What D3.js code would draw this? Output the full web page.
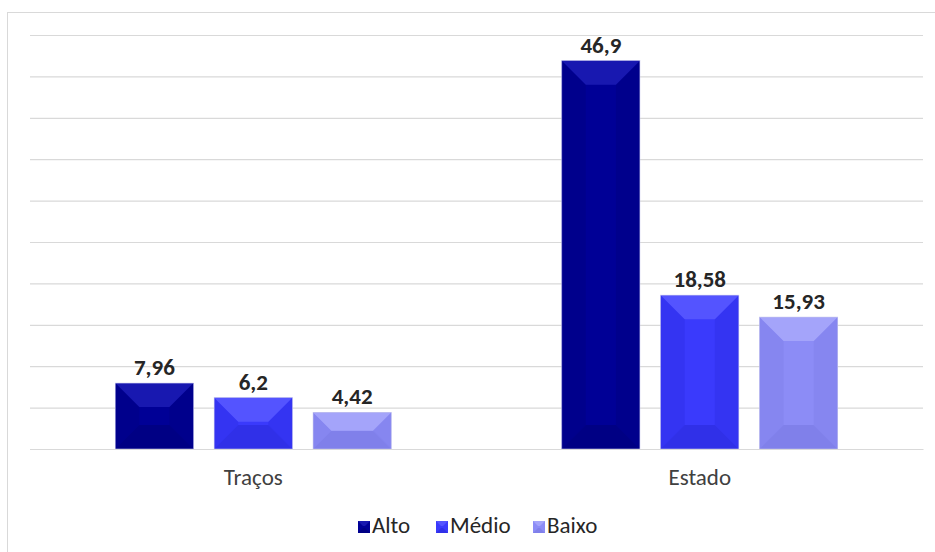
<!DOCTYPE html>
<html>
<head>
<meta charset="utf-8">
<script src="https://cdn.jsdelivr.net/npm/d3@7"></script>
<style>
  body { margin: 0; background: #fff; }
  svg { font-family: Carlito, Calibri, "Open Sans", sans-serif; }
</style>
</head>
<body>
<div class="canvas"></div>
<script>
// data
const categories = ["Traços", "Estado"];
const series = ["Alto", "Médio", "Baixo"];
const alto = [7.96, 46.9];
const medio = [6.2, 18.58];
const baixo = [4.42, 15.93];
const yTicks = [0, 5, 10, 15, 20, 25, 30, 35, 40, 45, 50];

const values = { "Alto": alto, "Médio": medio, "Baixo": baixo };

const colors = {
  "Alto":  { main: "#000096", top: "#1818b0", bottom: "#000084", side: "#00008c" },
  "Médio": { main: "#3a3afc", top: "#5454ff", bottom: "#3030e8", side: "#3434f2" },
  "Baixo": { main: "#8c8cf6", top: "#a4a4fa", bottom: "#8080ea", side: "#8686f0" }
};

const width = 935, height = 552;
const margin = { top: 35, right: 12, bottom: 103, left: 30 };
const graphWidth = width - margin.left - margin.right;
const graphHeight = height - margin.top - margin.bottom;

const svg = d3.select(".canvas")
  .append("svg")
  .attr("width", width)
  .attr("height", height);

// chart border
svg.append("rect")
  .attr("x", 7.5).attr("y", 12.5)
  .attr("width", 940).attr("height", 560)
  .attr("fill", "none")
  .attr("stroke", "#d9d9d9");

const graph = svg.append("g")
  .attr("transform", `translate(${margin.left}, ${margin.top})`);

// scales
const x0 = d3.scaleBand()
  .domain(categories)
  .range([0, graphWidth])
  .paddingInner(0.382)
  .paddingOuter(0.191);

const x1 = d3.scaleBand()
  .domain(series)
  .range([0, x0.bandwidth()])
  .paddingInner(0.21);

const y = d3.scaleLinear().domain([0, 50]).range([graphHeight, 0]);

// gridlines
const yAxis = d3.axisLeft(y).tickValues(yTicks).tickSize(-graphWidth).tickFormat("");
const yAxisGroup = graph.append("g").call(yAxis);
yAxisGroup.select(".domain").remove();
yAxisGroup.selectAll("line").attr("stroke", "#d9d9d9").attr("stroke-width", 1.2);

// bevel faces for a bar
const bevel = (x, yTop, w, h, depth) => {
  const d = Math.min(depth, h / 2, w / 2);
  const x2 = x + w, y2 = yTop + h;
  return {
    top: [[x, yTop], [x2, yTop], [x2 - d, yTop + d], [x + d, yTop + d]],
    bottom: [[x, y2], [x2, y2], [x2 - d, y2 - d], [x + d, y2 - d]],
    left: [[x, yTop], [x + d, yTop + d], [x + d, y2 - d], [x, y2]],
    right: [[x2, yTop], [x2 - d, yTop + d], [x2 - d, y2 - d], [x2, y2]]
  };
};

const rows = [];
categories.forEach((c, i) => {
  series.forEach(s => rows.push({ cat: c, ser: s, value: values[s][i] }));
});

const bars = graph.selectAll("g.bar")
  .data(rows)
  .enter()
  .append("g")
  .attr("class", "bar");

bars.each(function(d) {
  const g = d3.select(this);
  const bx = x0(d.cat) + x1(d.ser);
  const by = y(d.value);
  const bw = x1.bandwidth();
  const bh = graphHeight - by;
  const c = colors[d.ser];
  const p = bevel(bx, by, bw, bh, 24);
  g.append("rect").attr("x", bx).attr("y", by).attr("width", bw).attr("height", bh).attr("fill", c.main);
  g.append("polygon").attr("points", p.left.join(" ")).attr("fill", c.side);
  g.append("polygon").attr("points", p.right.join(" ")).attr("fill", c.side);
  g.append("polygon").attr("points", p.bottom.join(" ")).attr("fill", c.bottom);
  g.append("polygon").attr("points", p.top.join(" ")).attr("fill", c.top);
  g.append("rect").attr("x", bx).attr("y", by).attr("width", bw).attr("height", bh)
    .attr("fill", "none").attr("stroke", "#c0c0ec").attr("stroke-width", 0.6);
});

// value labels
graph.selectAll("text.value")
  .data(rows)
  .enter()
  .append("text")
  .attr("class", "value")
  .attr("x", d => x0(d.cat) + x1(d.ser) + x1.bandwidth() / 2)
  .attr("y", d => y(d.value) - 8)
  .attr("text-anchor", "middle")
  .attr("font-size", 23)
  .attr("font-weight", "bold")
  .attr("fill", "#262626")
  .text(d => String(d.value).replace(".", ","));

// category axis labels
const xAxis = d3.axisBottom(x0).tickSize(0).tickPadding(20);
const xAxisGroup = graph.append("g")
  .attr("transform", `translate(0, ${graphHeight})`)
  .call(xAxis);
xAxisGroup.select(".domain").attr("stroke", "#d9d9d9").attr("stroke-width", 1.2);
xAxisGroup.selectAll("text")
  .attr("font-size", 23)
  .attr("fill", "#404040")
  .attr("font-family", "Carlito, Calibri, 'Open Sans', sans-serif");

// legend
const legendItems = [
  { ser: "Alto", x: 358 },
  { ser: "Médio", x: 436 },
  { ser: "Baixo", x: 533 }
];
const legend = svg.append("g").attr("transform", "translate(0, 533)");
legendItems.forEach(item => {
  const c = colors[item.ser];
  const p = bevel(item.x, -12, 12, 12, 5);
  legend.append("rect").attr("x", item.x).attr("y", -12).attr("width", 12).attr("height", 12).attr("fill", c.main);
  legend.append("polygon").attr("points", p.top.join(" ")).attr("fill", c.top);
  legend.append("polygon").attr("points", p.bottom.join(" ")).attr("fill", c.bottom);
  legend.append("text")
    .attr("x", item.x + 14)
    .attr("y", 0)
    .attr("font-size", 23)
    .attr("fill", "#262626")
    .text(item.ser);
});
</script>
</body>
</html>
